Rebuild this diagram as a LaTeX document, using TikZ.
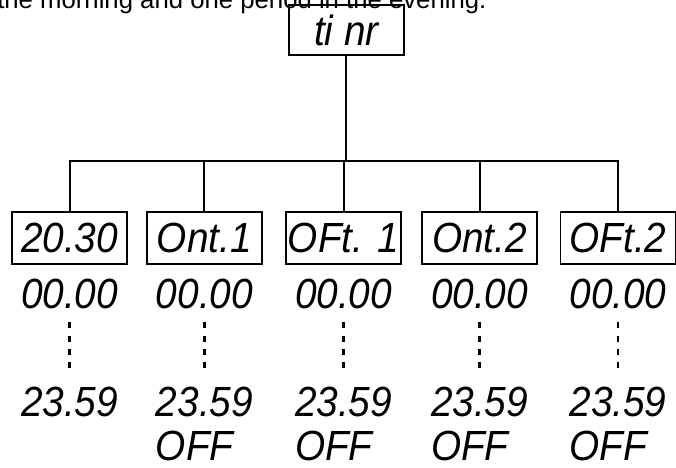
\documentclass[tikz,border=0pt]{standalone}
\usepackage{fontspec}
\setmainfont{Liberation Sans}
\newfontfamily\lcdfont{Liberation Sans}[FakeStretch=0.92]
\usepackage{tikz}

\newcommand{\lcd}{\lcdfont\fontsize{30}{30}\selectfont\itshape}

\tikzset{
	dispbox/.style={draw, line width=1.4pt, minimum width=2.875cm, minimum height=1.3cm, inner sep=0pt, font=\lcd},
	lcdtext/.style={inner sep=0pt, text height=0.75cm, text depth=0pt, font=\lcd},
	link/.style={line width=1.4pt},
	dotline/.style={line width=2.1pt, dash pattern=on 0.15cm off 0.183cm}
}

\begin{document}
\begin{tikzpicture}
		\useasboundingbox (0,0) rectangle (16.9,-11.7);
		
		\node[anchor=base west, inner sep=0pt, font=\fontsize{18.3}{20}\selectfont] (intro) at (-0.075,-0.2125) {the morning and one period in the evening.};
		
		\node[dispbox, minimum height=1.25cm] (timer) at (8.66,-0.75) {ti nr};
		
		\coordinate (bar) at (0,-4.025);
		
		\foreach \n/\x/\t in {1/1.74/20.30, 2/5.11/Ont.1, 3/8.59/OFt. 1, 4/11.99/Ont.2, 5/15.45/OFt.2}{
			\node[dispbox] (b\n) at (\x,-5.95) {\t};
			\node[lcdtext] (s\n) at (\x,-7.325) {00.00};
			\node[lcdtext] (e\n) at (\x,-10.025) {23.59};
			\draw[dotline, shorten <=0.35cm, shorten >=0.425cm] (s\n.south) -- (e\n.north);
		}
		
		\foreach \n in {2,...,5}
			\node[lcdtext, anchor=west] (off\n) at (e\n.west |- 0,-11.125) {OFF};
		
		\draw[link] (timer.south) -- (timer |- bar);
		\draw[link] (b1.north) -- (b1 |- bar) -- (b5 |- bar) -- (b5.north);
		\foreach \n in {2,3,4}
			\draw[link] (b\n.north) -- (b\n |- bar);
	\end{tikzpicture}
\end{document}
